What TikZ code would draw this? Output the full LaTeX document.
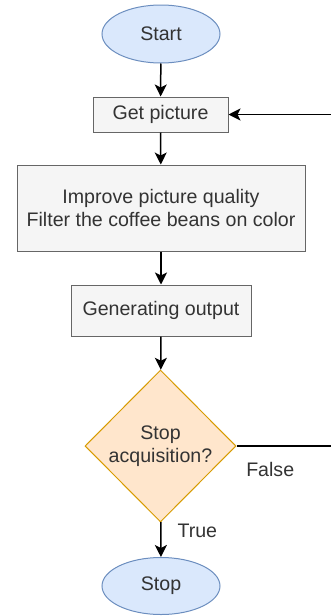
\documentclass[tikz,border=0pt]{standalone}
\usepackage{fontspec}
\setmainfont{Liberation Sans}
\usetikzlibrary{shapes.geometric,arrows.meta}

\definecolor{termfill}{HTML}{DAE8FC}
\definecolor{termline}{HTML}{6C8EBF}
\definecolor{stepfill}{HTML}{F5F5F5}
\definecolor{stepline}{HTML}{666666}
\definecolor{askfill}{HTML}{FFE6CC}
\definecolor{askline}{HTML}{D79B00}
\definecolor{txtgray}{HTML}{333333}

\tikzset{
  term/.style={ellipse, draw=termline, fill=termfill, line width=1pt,
    minimum width=118pt, minimum height=58pt, inner sep=0pt},
  stepbox/.style={rectangle, draw=stepline, fill=stepfill, line width=1pt,
    align=center, inner sep=0pt},
  ask/.style={diamond, draw=askline, fill=askfill, line width=1pt,
    align=center, minimum width=151pt, minimum height=152pt, inner sep=-2pt},
  flow/.style={draw=black, line width=1.5pt, -{Stealth[length=12pt,width=12pt,inset=3pt]}},
  edgelabel/.style={inner sep=0pt, anchor=north west}
}

\begin{document}
\begin{tikzpicture}[x=1pt, y=-1pt, text=txtgray,
    font=\fontsize{19.6}{23.5}\selectfont]
        \clip (0,0) rectangle (331,616);

        % 1. nodes
        \node[term] (start) at (161,34) {Start};
        \node[stepbox, minimum width=135pt, minimum height=35pt] (get) at (160.5,114.5) {Get picture};
        \node[stepbox, minimum width=288pt, minimum height=86pt] (improve) at (161,208)
            {Improve picture quality\\Filter the coffee beans on color};
        \node[stepbox, minimum width=180pt, minimum height=51pt] (output) at (161,310.5) {Generating output};
        \node[ask] (stopq) at (160.5,446) {Stop\\acquisition?};
        \node[term, minimum height=57pt] (stop) at (161,586) {Stop};

        % 2. connectors
        \draw[flow] (start) -- (get);
        \draw[flow] (get) -- (improve);
        \draw[flow] (improve) -- (output);
        \draw[flow] (output) -- (stopq);
        \draw[flow] (stopq) -- node[edgelabel, at start, xshift=16pt, yshift=-1pt] {True} (stop);

        % 3. loop back
        \coordinate (loopturn) at (345,446);
        \draw[flow] (stopq.east) -- node[edgelabel, at start, xshift=9pt, yshift=-16pt] {False} (loopturn) |- (get.east);
    \end{tikzpicture}
\end{document}
